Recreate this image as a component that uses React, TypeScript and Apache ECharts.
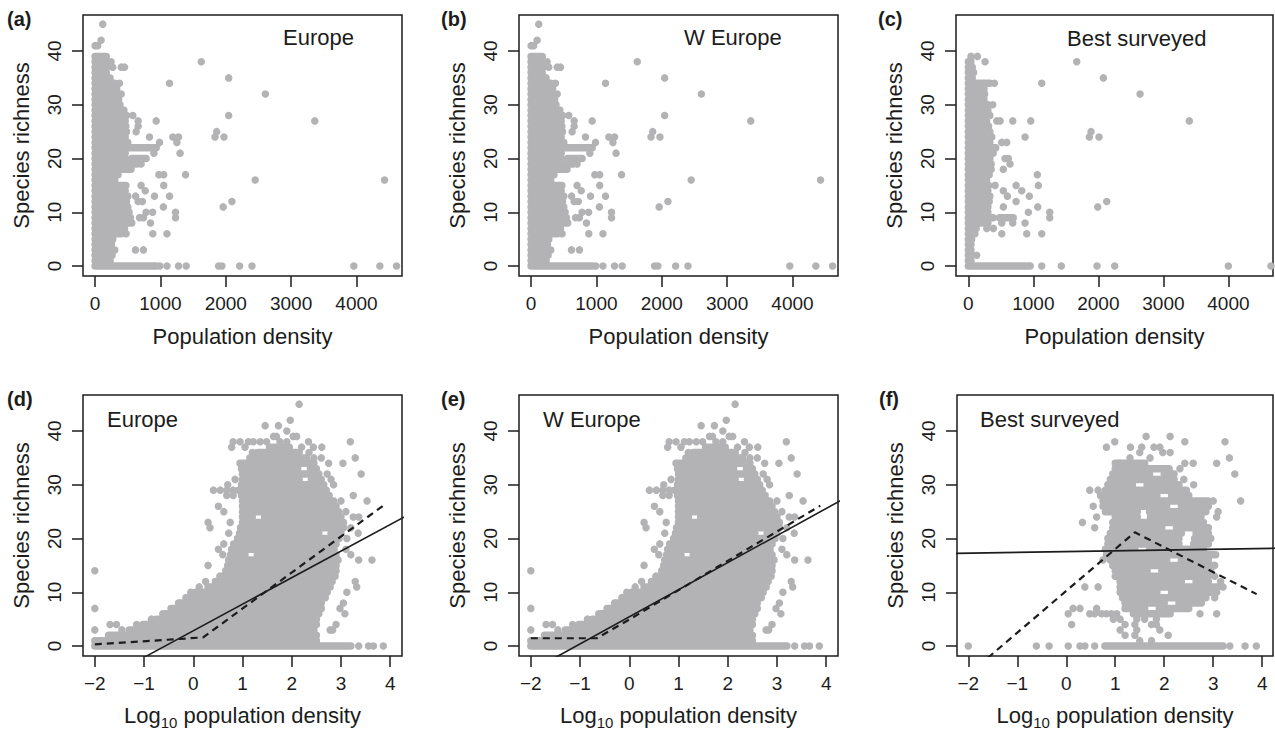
import React, { useEffect, useRef } from "react";
import * as echarts from "echarts";

const GRAY = "#b3b3b5";
const INK = "#1c1c1c";
const FONT = "'Liberation Sans', Arial, Helvetica, sans-serif";
const DOT = 7.5;

// ---- tick labels ----
const richnessTicks = [0, 10, 20, 30, 40];
const densityTicks = [0, 1000, 2000, 3000, 4000];
const logDensityTicks = [-2, -1, 0, 1, 2, 3, 4];

const panelTags = ["(a)", "(b)", "(c)", "(d)", "(e)", "(f)"];
const regionTitles = ["Europe", "W Europe", "Best surveyed", "Europe", "W Europe", "Best surveyed"];

// ---- raw population density (panels a, b): runs = [richness, densityFrom, densityTo] of overlapping cells ----
const europeRuns = [
  [0, 0, 935], [1, 0, 230], [2, 0, 260], [3, 0, 300], [4, 0, 250], [5, 0, 270],
  [6, 0, 400], [7, 0, 450], [8, 0, 560], [9, 0, 540], [10, 0, 520], [11, 0, 500],
  [12, 0, 480], [13, 0, 500], [14, 0, 460], [15, 0, 470], [16, 0, 300], [17, 0, 350],
  [18, 0, 550], [19, 0, 640], [20, 0, 460], [20, 560, 780], [21, 0, 460], [22, 0, 935],
  [23, 0, 500], [24, 0, 460], [25, 0, 480], [26, 0, 470], [27, 0, 460], [28, 0, 480],
  [29, 0, 440], [30, 0, 380], [31, 0, 360], [32, 0, 330], [33, 0, 330], [34, 0, 300],
  [35, 0, 190], [36, 0, 170], [37, 0, 180], [38, 0, 170], [39, 0, 170],
];
const europePoints = [
  [990, 0], [1100, 0], [1277, 0], [1394, 0], [1890, 0], [1941, 0], [2212, 0], [2401, 0], [3960, 0], [4358, 0], [4614, 0],
  [618, 3], [740, 3], [475, 6], [883, 6], [1100, 6], [848, 8], [680, 9], [740, 9], [1231, 9],
  [780, 10], [880, 10], [1231, 10], [1045, 11], [1960, 11], [659, 12], [723, 12], [2094, 12],
  [620, 13], [909, 13], [1139, 13], [767, 14], [704, 15], [1050, 15], [2450, 16], [4430, 16],
  [976, 17], [1050, 17], [1384, 17], [704, 19], [900, 21], [1300, 21], [986, 23], [1252, 23],
  [832, 24], [1190, 24], [1277, 24], [1835, 24], [1972, 24], [628, 25], [1861, 25], [659, 26],
  [659, 27], [935, 27], [3362, 27], [577, 28], [2044, 28], [400, 32], [2606, 32], [373, 34], [1139, 34],
  [230, 35], [2044, 35], [270, 37], [400, 37], [450, 37], [245, 38], [1625, 38], [0, 41], [40, 41], [92, 42], [117, 45],
];

// ---- raw population density, best surveyed (panel c) ----
const bestRuns = [
  [0, 0, 950], [1, 0, 40], [2, 0, 50], [3, 0, 40], [4, 0, 40], [5, 0, 50], [6, 0, 100], [7, 0, 120],
  [8, 0, 300], [9, 0, 380], [9, 480, 690], [10, 0, 300], [11, 0, 300], [12, 0, 320], [13, 0, 330],
  [14, 0, 300], [15, 0, 310], [16, 0, 280], [17, 0, 320], [18, 0, 350], [19, 0, 350], [20, 0, 330],
  [21, 0, 380], [22, 0, 420], [23, 0, 330], [24, 0, 360], [25, 0, 330], [26, 0, 310], [27, 0, 280],
  [28, 0, 330], [29, 0, 300], [30, 0, 300], [31, 0, 240], [32, 0, 250], [33, 0, 240], [34, 0, 330],
  [35, 0, 60], [36, 0, 80], [37, 0, 60], [38, 0, 40],
];
const bestPoints = [
  [1129, 0], [1430, 0], [1979, 0], [2251, 0], [3999, 0], [4655, 0], [128, 2], [514, 6], [898, 6], [1129, 6],
  [283, 7], [385, 7], [514, 8], [683, 8], [872, 8], [1252, 9], [923, 10], [1252, 10], [538, 11], [1067, 11],
  [1990, 11], [734, 12], [2128, 12], [600, 13], [938, 13], [538, 14], [821, 14], [411, 15], [734, 15], [1077, 15],
  [1061, 17], [538, 18], [641, 19], [564, 20], [615, 20], [514, 23], [590, 23], [872, 24], [1861, 24], [2010, 24],
  [1887, 25], [437, 27], [488, 27], [683, 27], [960, 27], [3399, 27], [375, 30], [2641, 32], [400, 34], [1129, 34],
  [2077, 35], [257, 38], [1667, 38], [41, 39], [138, 39],
];

// ---- log10 population density (panels d, e) ----
const europeLogRuns = [
  [0, -2.0, 3.2], [1, -2.0, 2.5], [2, -1.72, 2.5], [3, -1.3, 2.45], [4, -1.02, 2.5], [5, -0.75, 2.5],
  [6, -0.56, 2.55], [7, -0.45, 2.6], [8, -0.27, 2.6], [9, -0.12, 2.68], [10, 0.05, 2.72], [11, 0.3, 2.78],
  [12, 0.45, 2.82], [13, 0.6, 2.88], [14, 0.66, 2.9], [15, 0.7, 2.9], [16, 0.72, 2.94],
  [17, 0.76, 1.05], [17, 1.3, 2.9], [18, 0.78, 2.86], [19, 0.82, 2.9], [20, 0.9, 2.96],
  [21, 0.94, 2.55], [21, 2.8, 3.0], [22, 0.96, 3.05], [23, 1.0, 3.05],
  [24, 1.0, 1.2], [24, 1.45, 3.0], [25, 1.0, 2.95], [26, 1.0, 2.9], [27, 1.0, 2.85], [28, 0.98, 2.76],
  [29, 0.92, 2.7], [30, 0.98, 2.65], [31, 1.0, 2.15], [31, 2.4, 2.6], [32, 1.0, 2.55],
  [33, 0.98, 2.12], [33, 2.38, 2.5], [34, 0.95, 2.45],
  [35, 1.15, 2.3], [36, 1.3, 2.15], [37, 1.55, 1.95],
];
const europeLogPoints = [
  [-2, 14], [-2, 7], [-2, 3], [-1.69, 4], [-1.56, 4], [-1.45, 3], [-1.15, 4], [-0.85, 5], [-0.62, 6], [-0.3, 8],
  [-0.15, 9], [-0.05, 10], [0.12, 11], [0.25, 12], [0.3, 15], [0.3, 23], [0.34, 22], [0.51, 18], [0.54, 13],
  [0.41, 29], [0.55, 29], [0.68, 29], [0.81, 29], [0.51, 26], [0.68, 28], [0.81, 28], [0.62, 25], [0.75, 23],
  [0.72, 21], [0.62, 19], [0.6, 17], [0.85, 31], [0.7, 30],
  [2.15, 45], [1.46, 41], [1.73, 41], [1.97, 42], [1.63, 39], [1.69, 39], [2.03, 39], [2.1, 39], [1.9, 40],
  [0.81, 38], [0.95, 38], [1.12, 38], [1.22, 38], [1.36, 38], [1.49, 38], [1.76, 38], [1.9, 38], [2.34, 38],
  [0.78, 37], [1.05, 37], [1.2, 36], [2.2, 37], [2.44, 37], [2.61, 37], [3.19, 38],
  [2.35, 36], [2.45, 35], [2.6, 35], [2.75, 34], [3.04, 34], [3.29, 35], [3.41, 32], [2.72, 32], [2.85, 30], [2.8, 31],
  [3.25, 28], [3.53, 27], [3.0, 27], [3.1, 25], [3.25, 24], [3.36, 24], [3.2, 22], [3.35, 21], [3.12, 20],
  [3.36, 16], [3.63, 16], [3.1, 18], [3.2, 17], [3.29, 12], [3.32, 11], [3.12, 10], [3.05, 8], [3.08, 6],
  [2.98, 7], [2.83, 3], [2.9, 4], [2.78, 3], [3.36, 0], [3.56, 0], [3.66, 0], [3.86, 0],
];

// ---- log10 population density, best surveyed (panel f) ----
const bestLogRuns = [
  [0, 0.79, 3.2], [6, 1.37, 2.12], [7, 1.2, 1.6], [7, 1.9, 2.5], [8, 1.2, 2.0], [8, 2.3, 2.7],
  [9, 1.15, 2.85], [10, 1.1, 1.85], [10, 2.15, 2.95], [11, 1.1, 3.1], [12, 1.1, 2.35], [12, 2.65, 2.9],
  [13, 1.0, 2.9], [14, 1.0, 1.65], [14, 1.95, 2.95], [15, 0.95, 3.0], [16, 0.9, 2.05], [16, 2.35, 2.9],
  [17, 0.82, 3.05], [18, 0.8, 1.4], [18, 1.7, 2.8], [19, 0.85, 2.3], [19, 2.6, 2.9], [20, 0.85, 2.3],
  [20, 2.62, 2.95], [21, 0.9, 2.35], [21, 2.65, 2.9], [22, 0.95, 1.95], [22, 2.25, 2.9], [23, 0.95, 2.8],
  [24, 1.0, 1.45], [24, 1.72, 2.75], [25, 0.8, 1.45], [25, 1.7, 2.85], [26, 0.75, 2.05], [26, 2.35, 2.9],
  [27, 0.75, 2.9], [28, 0.7, 1.85], [28, 2.15, 2.5], [29, 0.8, 2.45], [30, 0.85, 1.35], [30, 1.65, 2.3],
  [31, 0.9, 2.2], [32, 0.95, 1.7], [32, 2.0, 2.2], [33, 1.0, 2.1], [34, 1.0, 1.6],
];
const bestLogPoints = [
  [-2, 0], [-0.61, 0], [-0.35, 0], [0.04, 0], [0.28, 0], [0.38, 0], [0.58, 0], [3.34, 0], [3.65, 0], [3.88, 0],
  [1.74, 1], [1.5, 1], [1.2, 2], [1.4, 2], [2.08, 2], [1.44, 3], [1.91, 3], [1.1, 3],
  [0.11, 4], [1.2, 4], [1.4, 4], [1.74, 4], [1.84, 4], [0.96, 5], [1.1, 5], [1.44, 5], [1.6, 5], [1.84, 5],
  [0.04, 6], [0.48, 6], [0.58, 6], [0.72, 6], [0.82, 6], [0.92, 6], [1.03, 6], [2.73, 6], [3.07, 6],
  [0.14, 7], [0.28, 7], [0.62, 7], [2.76, 8], [3.03, 9], [3.07, 10], [0.38, 11], [0.65, 11], [3.2, 11],
  [3.15, 12], [3.03, 13], [3.03, 15], [0.75, 16], [0.58, 22], [0.33, 23], [0.62, 24], [3.07, 24], [3.1, 25],
  [0.55, 26], [3.56, 27], [3.0, 27], [0.48, 29], [0.65, 29], [2.6, 30], [2.4, 31], [3.44, 32], [2.32, 33],
  [2.42, 34], [2.59, 34], [3.07, 34], [1.1, 34], [1.3, 35], [1.71, 35], [3.33, 35], [1.5, 36], [1.97, 36],
  [2.12, 36], [0.82, 37], [1.31, 37], [1.54, 37], [1.79, 37], [1.91, 37], [0.99, 38], [2.42, 38], [3.24, 38],
  [1.63, 39], [2.12, 39],
];

// ---- fitted lines (solid: linear, dashed: piecewise) ----
const fitSolidEurope = [[-1.0, -2.11], [4.3, 24.08]];
const fitDashedEurope = [[-2, 0.3], [0.2, 1.6], [3.9, 26.4]];
const fitSolidWEurope = [[-1.5, -2.14], [4.3, 27.1]];
const fitDashedWEurope = [[-2, 1.44], [-0.66, 1.44], [-0.05, 4.66], [3.88, 26.1]];
const fitSolidBest = [[-2.3, 17.23], [4.3, 18.18]];
const fitDashedBest = [[-1.6, -2.2], [1.4, 21.15], [3.886, 9.65]];

type Panel = {
  runs: number[][];
  points: number[][];
  solid?: number[][];
  dashed?: number[][];
  log: boolean;
  xMin: number;
  xMax: number;
};

const panels: Panel[] = [
  { runs: europeRuns, points: europePoints, log: false, xMin: -185, xMax: 4697 },
  { runs: europeRuns, points: europePoints, log: false, xMin: -185, xMax: 4697 },
  { runs: bestRuns, points: bestPoints, log: false, xMin: -190, xMax: 4686 },
  { runs: europeLogRuns, points: europeLogPoints, solid: fitSolidEurope, dashed: fitDashedEurope, log: true, xMin: -2.24, xMax: 4.24 },
  { runs: europeLogRuns, points: europeLogPoints, solid: fitSolidWEurope, dashed: fitDashedWEurope, log: true, xMin: -2.24, xMax: 4.24 },
  { runs: bestLogRuns, points: bestLogPoints, solid: fitSolidBest, dashed: fitDashedBest, log: true, xMin: -2.23, xMax: 4.22 },
];

const boxes = [
  { left: 83, top: 15, width: 319, height: 261 },
  { left: 519, top: 15, width: 319, height: 261 },
  { left: 956, top: 15, width: 317, height: 261 },
  { left: 83, top: 395, width: 319, height: 261 },
  { left: 519, top: 395, width: 319, height: 261 },
  { left: 957, top: 395, width: 316, height: 261 },
];
const tagPos = [[7, 19], [441, 19], [878, 19], [7, 399], [441, 399], [879, 399]];
const titlePos = [[283, 37], [684, 37], [1067, 38], [107, 419], [543, 419], [980, 419]];

const fmt = (v: number) => (v < 0 ? "\u2212" + Math.abs(v) : String(v));

function buildOption() {
  const grid = boxes.map((b) => ({
    left: b.left,
    top: b.top,
    width: b.width,
    height: b.height,
    show: true,
    borderColor: INK,
    borderWidth: 1.5,
    backgroundColor: "transparent",
    containLabel: false,
    outerBoundsMode: "none",
  }));

  const xAxis = panels.map((p, i) => ({
    type: "value",
    gridIndex: i,
    min: p.xMin,
    max: p.xMax,
    axisLine: { show: false, onZero: false },
    axisTick: {
      show: true,
      length: 11,
      customValues: p.log ? logDensityTicks : densityTicks,
      lineStyle: { color: INK, width: 1.5 },
    },
    axisLabel: {
      customValues: p.log ? logDensityTicks : densityTicks,
      margin: 18,
      fontSize: 19,
      color: INK,
      fontFamily: FONT,
      formatter: fmt,
    },
    splitLine: { show: false },
    name: p.log ? "{n|Log}{s|10}{n| population density}" : "Population density",
    nameLocation: "middle",
    nameGap: p.log ? 44 : 49,
    nameTextStyle: {
      color: INK,
      fontFamily: FONT,
      fontSize: 22,
      rich: {
        n: { fontSize: 22, fontFamily: FONT, color: INK, lineHeight: 30 },
        s: { fontSize: 15, fontFamily: FONT, color: INK, lineHeight: 11, verticalAlign: "bottom" },
      },
    },
  }));

  const yAxis = panels.map((_p, i) => ({
    type: "value",
    gridIndex: i,
    min: -1.86,
    max: 46.7,
    axisLine: { show: false, onZero: false },
    axisTick: { show: true, length: 11, customValues: richnessTicks, lineStyle: { color: INK, width: 1.5 } },
    axisLabel: {
      customValues: richnessTicks,
      rotate: 90,
      margin: 19,
      fontSize: 19,
      color: INK,
      fontFamily: FONT,
    },
    splitLine: { show: false },
    name: "Species richness",
    nameLocation: "middle",
    nameGap: 51,
    nameTextStyle: { color: INK, fontFamily: FONT, fontSize: 22 },
  }));

  const series: any[] = [];
  panels.forEach((p, i) => {
    series.push({
      type: "custom",
      xAxisIndex: i,
      yAxisIndex: i,
      data: p.runs,
      encode: { x: [1, 2], y: 0 },
      silent: true,
      z: 2,
      renderItem: (_params: any, api: any) => {
        const y = api.value(0);
        const a = api.coord([api.value(1), y]);
        const b = api.coord([api.value(2), y]);
        const r = DOT / 2;
        return {
          type: "rect",
          shape: { x: a[0] - r, y: a[1] - r, width: b[0] - a[0] + 2 * r, height: 2 * r, r },
          style: { fill: GRAY },
        };
      },
    });
    series.push({
      type: "scatter",
      xAxisIndex: i,
      yAxisIndex: i,
      data: p.points,
      symbol: "circle",
      symbolSize: DOT,
      itemStyle: { color: GRAY, opacity: 1 },
      silent: true,
      z: 2,
    });
    if (p.solid) {
      series.push({
        type: "line",
        xAxisIndex: i,
        yAxisIndex: i,
        data: p.solid,
        showSymbol: false,
        symbol: "none",
        clip: true,
        silent: true,
        lineStyle: { color: INK, width: 1.6 },
        z: 5,
      });
    }
    if (p.dashed) {
      series.push({
        type: "line",
        xAxisIndex: i,
        yAxisIndex: i,
        data: p.dashed,
        showSymbol: false,
        symbol: "none",
        clip: true,
        silent: true,
        lineStyle: { color: INK, width: 2.2, type: [7, 5] },
        z: 6,
      });
    }
  });

  const graphic: any[] = [];
  panelTags.forEach((t, i) => {
    graphic.push({
      type: "text",
      x: tagPos[i][0],
      y: tagPos[i][1],
      style: {
        text: t,
        fontSize: 20,
        fontWeight: "bold",
        fontFamily: FONT,
        fill: INK,
        align: "left",
        verticalAlign: "middle",
        textAlign: "left",
        textVerticalAlign: "middle",
      },
    });
  });
  regionTitles.forEach((t, i) => {
    graphic.push({
      type: "text",
      x: titlePos[i][0],
      y: titlePos[i][1],
      style: {
        text: t,
        fontSize: 22,
        fontFamily: FONT,
        fill: INK,
        align: "left",
        verticalAlign: "middle",
        textAlign: "left",
        textVerticalAlign: "middle",
      },
    });
  });

  return {
    animation: false,
    backgroundColor: "#ffffff",
    textStyle: { fontFamily: FONT },
    grid,
    xAxis,
    yAxis,
    series,
    graphic,
  };
}

export default function App() {
  const ref = useRef<HTMLDivElement>(null);
  useEffect(() => {
    if (!ref.current) return;
    const chart = echarts.init(ref.current, undefined, { renderer: "svg" });
    chart.setOption(buildOption() as any);
    return () => chart.dispose();
  }, []);
  return (
    <div
      ref={ref}
      style={{ position: "absolute", left: 0, top: 0, width: 1275, height: 733, background: "#fff" }}
    />
  );
}
